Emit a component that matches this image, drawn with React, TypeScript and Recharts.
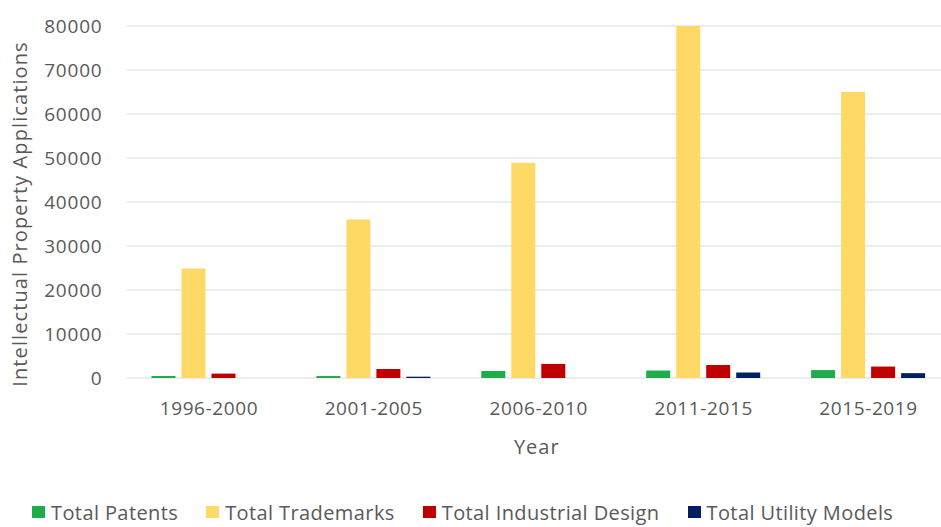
import { BarChart, Bar, XAxis, YAxis, CartesianGrid, Legend, Label } from 'recharts';

const categories = ['1996-2000', '2001-2005', '2006-2010', '2011-2015', '2015-2019'];
const patents = [450, 450, 1600, 1700, 1800];
const trademarks = [24900, 36000, 48900, 80000, 65000];
const industrialDesign = [1000, 2050, 3200, 2950, 2600];
const utilityModels = [0, 300, 0, 1250, 1100];
const yTicks = [0, 10000, 20000, 30000, 40000, 50000, 60000, 70000, 80000];

const SERIES = [
    { key: 'patents', name: 'Total Patents', color: '#1fad4b' },
    { key: 'trademarks', name: 'Total Trademarks', color: '#ffd966' },
    { key: 'industrial', name: 'Total Industrial Design', color: '#c00000' },
    { key: 'utility', name: 'Total Utility Models', color: '#002060' },
];

const FONT = '"Open Sans", sans-serif';
const TEXT = '#595959';

const data = categories.map((period, i) => ({
    period,
    patents: patents[i],
    trademarks: trademarks[i],
    industrial: industrialDesign[i],
    utility: utilityModels[i],
}));

function ChartLegend() {
    return (
        <div style={{ display: 'flex', alignItems: 'center', paddingLeft: 32, height: 30, fontFamily: FONT, fontSize: 20, letterSpacing: 0.4, color: TEXT }}>
            {SERIES.map(s => (
                <div key={s.key} style={{ display: 'flex', alignItems: 'center', marginRight: 28 }}>
                    <span style={{ width: 13, height: 12, background: s.color, marginRight: 6, display: 'inline-block' }} />
                    <span>{s.name}</span>
                </div>
            ))}
        </div>
    );
}

export default function App() {
    return (
        <div style={{ position: 'absolute', left: 0, top: 0, width: 941, height: 527, overflow: 'hidden', background: '#fff' }}>
            <BarChart
                width={951}
                height={527}
                data={data}
                margin={{ top: 26, right: 0, bottom: 39, left: 0 }}
                barSize={24}
                barGap={6}
            >
                <CartesianGrid vertical={false} stroke="#d9d9d9" strokeWidth={1} />
                <XAxis
                    dataKey="period"
                    axisLine={false}
                    tickLine={false}
                    tickSize={0}
                    tickMargin={24}
                    height={80}
                    tick={{ fill: TEXT, fontSize: 19, fontFamily: FONT, letterSpacing: 0.6 }}
                >
                    <Label value="Year" position="insideBottom" offset={4} dx={-2} style={{ fill: TEXT, fontSize: 20, fontFamily: FONT, letterSpacing: 1 }} />
                </XAxis>
                <YAxis
                    domain={[0, 80000]}
                    ticks={yTicks}
                    axisLine={false}
                    tickLine={false}
                    tickSize={0}
                    tickMargin={24}
                    width={126.5}
                    tick={{ fill: TEXT, fontSize: 19, fontFamily: FONT, letterSpacing: 0.8 }}
                >
                    <Label
                        value="Intellectual Property Applications"
                        angle={-90}
                        position="insideLeft"
                        offset={20}
                        dy={12}
                        style={{ textAnchor: 'middle', fill: TEXT, fontSize: 20, fontFamily: FONT, letterSpacing: 1.1 }}
                    />
                </YAxis>
                <Legend
                    verticalAlign="bottom"
                    height={30}
                    content={() => <ChartLegend />}
                    wrapperStyle={{ bottom: 0, left: 0, width: 941 }}
                />
                {SERIES.map(s => (
                    <Bar key={s.key} dataKey={s.key} name={s.name} fill={s.color} isAnimationActive={false} />
                ))}
            </BarChart>
        </div>
    );
}
